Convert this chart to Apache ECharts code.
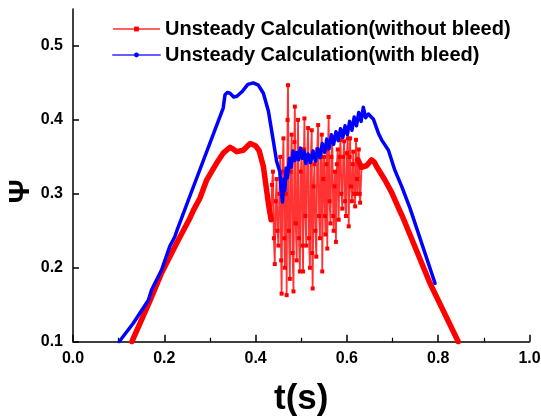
<!DOCTYPE html>
<html>
<head>
<meta charset="utf-8">
<script src="https://cdn.jsdelivr.net/npm/echarts@6/dist/echarts.min.js"></script>
<style>html,body{margin:0;padding:0;background:#fff;}#c{width:541px;height:416px;}</style>
</head>
<body>
<div id="c"></div>
<script>
var seriesNames = ['Unsteady Calculation(without bleed)', 'Unsteady Calculation(with bleed)'];
var xTicks = [0, 0.2, 0.4, 0.6, 0.8, 1.0];
var yTicks = [0.1, 0.2, 0.3, 0.4, 0.5];

// without bleed: smooth rising part
var redRise = [[0.129,0.100],[0.169,0.156],[0.194,0.193],[0.227,0.233],[0.256,0.267],[0.264,0.278],[0.278,0.294],[0.293,0.319],[0.315,0.342],[0.329,0.355],[0.344,0.363],[0.352,0.360],[0.359,0.357],[0.373,0.359],[0.388,0.368],[0.400,0.365],[0.408,0.358],[0.417,0.337],[0.423,0.310],[0.428,0.287],[0.434,0.265]];
// without bleed: oscillating part
var redOsc = [[0.434,0.265],[0.436,0.312],[0.438,0.330],[0.440,0.240],[0.442,0.205],[0.444,0.290],[0.446,0.320],[0.448,0.250],[0.450,0.230],[0.452,0.300],[0.454,0.350],[0.456,0.210],[0.457,0.165],[0.459,0.330],[0.461,0.375],[0.463,0.240],[0.464,0.200],[0.466,0.300],[0.467,0.320],[0.468,0.163],[0.470,0.400],[0.471,0.447],[0.473,0.250],[0.475,0.185],[0.477,0.330],[0.479,0.380],[0.481,0.220],[0.483,0.168],[0.485,0.370],[0.486,0.418],[0.488,0.260],[0.490,0.210],[0.492,0.350],[0.493,0.400],[0.495,0.240],[0.497,0.195],[0.499,0.330],[0.501,0.360],[0.503,0.230],[0.504,0.195],[0.506,0.360],[0.507,0.402],[0.509,0.270],[0.511,0.230],[0.513,0.350],[0.515,0.389],[0.517,0.240],[0.519,0.200],[0.521,0.350],[0.523,0.386],[0.524,0.220],[0.525,0.172],[0.527,0.310],[0.529,0.340],[0.531,0.250],[0.533,0.215],[0.535,0.360],[0.537,0.393],[0.539,0.270],[0.541,0.240],[0.543,0.350],[0.545,0.380],[0.546,0.195],[0.548,0.320],[0.550,0.350],[0.552,0.270],[0.553,0.245],[0.555,0.340],[0.556,0.360],[0.557,0.226],[0.559,0.370],[0.560,0.404],[0.562,0.290],[0.564,0.260],[0.566,0.350],[0.568,0.371],[0.570,0.270],[0.571,0.250],[0.573,0.310],[0.574,0.330],[0.576,0.235],[0.578,0.340],[0.580,0.360],[0.582,0.265],[0.584,0.350],[0.586,0.373],[0.588,0.300],[0.590,0.280],[0.592,0.350],[0.594,0.371],[0.596,0.290],[0.598,0.270],[0.600,0.355],[0.602,0.375],[0.604,0.256],[0.606,0.350],[0.607,0.375],[0.609,0.310],[0.611,0.290],[0.613,0.340],[0.614,0.357],[0.616,0.300],[0.618,0.283],[0.620,0.373],[0.622,0.320],[0.623,0.300],[0.625,0.345],[0.626,0.360],[0.628,0.300],[0.629,0.288],[0.632,0.335]];
// without bleed: smooth falling part
var redFall = [[0.624,0.346],[0.632,0.336],[0.643,0.338],[0.654,0.346],[0.660,0.343],[0.665,0.337],[0.683,0.319],[0.698,0.302],[0.713,0.281],[0.724,0.266],[0.782,0.179],[0.844,0.100]];
// with bleed
var blue = [[0.101,0.100],[0.132,0.125],[0.165,0.156],[0.172,0.170],[0.194,0.197],[0.212,0.229],[0.223,0.242],[0.228,0.251],[0.253,0.292],[0.329,0.416],[0.333,0.434],[0.338,0.437],[0.344,0.436],[0.352,0.431],[0.359,0.432],[0.370,0.438],[0.383,0.448],[0.395,0.450],[0.406,0.447],[0.417,0.436],[0.428,0.412],[0.439,0.371],[0.446,0.344],[0.453,0.330],[0.456,0.305],[0.459,0.289],[0.462,0.320],[0.464,0.305],[0.467,0.335],[0.470,0.322],[0.474,0.348],[0.478,0.336],[0.482,0.358],[0.486,0.345],[0.490,0.356],[0.494,0.346],[0.498,0.362],[0.502,0.348],[0.506,0.358],[0.510,0.341],[0.515,0.354],[0.520,0.342],[0.526,0.358],[0.531,0.344],[0.536,0.361],[0.541,0.349],[0.546,0.368],[0.551,0.356],[0.556,0.374],[0.561,0.361],[0.566,0.380],[0.571,0.367],[0.576,0.384],[0.581,0.372],[0.586,0.388],[0.591,0.376],[0.596,0.392],[0.601,0.380],[0.606,0.398],[0.611,0.386],[0.616,0.404],[0.621,0.392],[0.626,0.410],[0.631,0.398],[0.636,0.417],[0.641,0.403],[0.647,0.408],[0.658,0.401],[0.669,0.382],[0.676,0.373],[0.691,0.359],[0.705,0.332],[0.720,0.310],[0.738,0.281],[0.793,0.179]];

var FONT = 'Arial, "Liberation Sans", sans-serif';
var chart = echarts.init(document.getElementById('c'), null, {renderer: 'canvas'});
var option = {
  animation: false,
  backgroundColor: '#ffffff',
  textStyle: {fontFamily: FONT},
  grid: {left: 73, right: 11.5, top: 9, bottom: 74.3, containLabel: false, outerBoundsMode: 'none'},
  legend: {
    orient: 'vertical',
    left: 107,
    top: 14,
    itemWidth: 47,
    itemHeight: 6,
    itemGap: 6,
    textStyle: {fontFamily: FONT, fontSize: 20, fontWeight: 'bold', color: '#000'},
    data: [
      {name: seriesNames[0], lineStyle: {color: '#ff6060', width: 2}, itemStyle: {color: '#ff0000'}},
      {name: seriesNames[1], lineStyle: {color: '#6060ff', width: 2}, itemStyle: {color: '#0000ff'}}
    ]
  },
  xAxis: {
    type: 'value', min: 0, max: 1, interval: 0.2,
    name: 't(s)', nameLocation: 'middle', nameGap: 40, nameMoveOverlap: false,
    nameTextStyle: {fontFamily: FONT, fontSize: 35, fontWeight: 'bold', color: '#000'},
    axisLine: {show: true, onZero: false, lineStyle: {color: '#000', width: 1.5}},
    axisTick: {show: true, inside: true, length: 7, lineStyle: {color: '#000', width: 1.5}},
    minorTick: {show: true, splitNumber: 2, length: 4, lineStyle: {color: '#000', width: 1.2}},
    splitLine: {show: false},
    axisLabel: {margin: 9, fontFamily: FONT, fontSize: 16, fontWeight: 'bold', color: '#000',
      formatter: function (v) { return v.toFixed(1); }}
  },
  yAxis: {
    type: 'value', min: 0.1, max: 0.55, interval: 0.1,
    name: 'Ψ', nameLocation: 'middle', nameGap: 37, nameRotate: 90, nameMoveOverlap: false,
    nameTextStyle: {fontFamily: FONT, fontSize: 30, fontWeight: 'bold', color: '#000', padding: [0, 32, 0, 0]},
    axisLine: {show: true, onZero: false, lineStyle: {color: '#000', width: 1.5}},
    axisTick: {show: true, inside: true, length: 6, customValues: yTicks, lineStyle: {color: '#000', width: 1.5}},
    splitLine: {show: false},
    axisLabel: {margin: 10, customValues: yTicks, fontFamily: FONT, fontSize: 16, fontWeight: 'bold', color: '#000',
      formatter: function (v) { return (+v).toFixed(1); }}
  },
  series: [
    {name: seriesNames[0], type: 'line', data: redOsc, symbol: 'rect', symbolSize: 4, showAllSymbol: true,
      lineStyle: {color: 'rgba(255,0,0,0.8)', width: 1.8}, itemStyle: {color: '#ff0000'}, z: 2},
    {name: seriesNames[0], type: 'line', data: redRise, symbol: 'rect', showSymbol: false, smooth: false,
      lineStyle: {color: '#ff0000', width: 5.5, join: 'round', cap: 'round'}, itemStyle: {color: '#ff0000'}, z: 3},
    {name: seriesNames[0], type: 'line', data: redFall, symbol: 'rect', showSymbol: false, smooth: false,
      lineStyle: {color: '#ff0000', width: 5.5, join: 'round', cap: 'round'}, itemStyle: {color: '#ff0000'}, z: 3},
    {name: seriesNames[1], type: 'line', data: blue, symbol: 'circle', showSymbol: false, smooth: false,
      lineStyle: {color: '#0000ff', width: 3.5, join: 'round', cap: 'round'}, itemStyle: {color: '#0000ff'}, z: 4}
  ]
};
chart.setOption(option);
</script>
</body>
</html>
